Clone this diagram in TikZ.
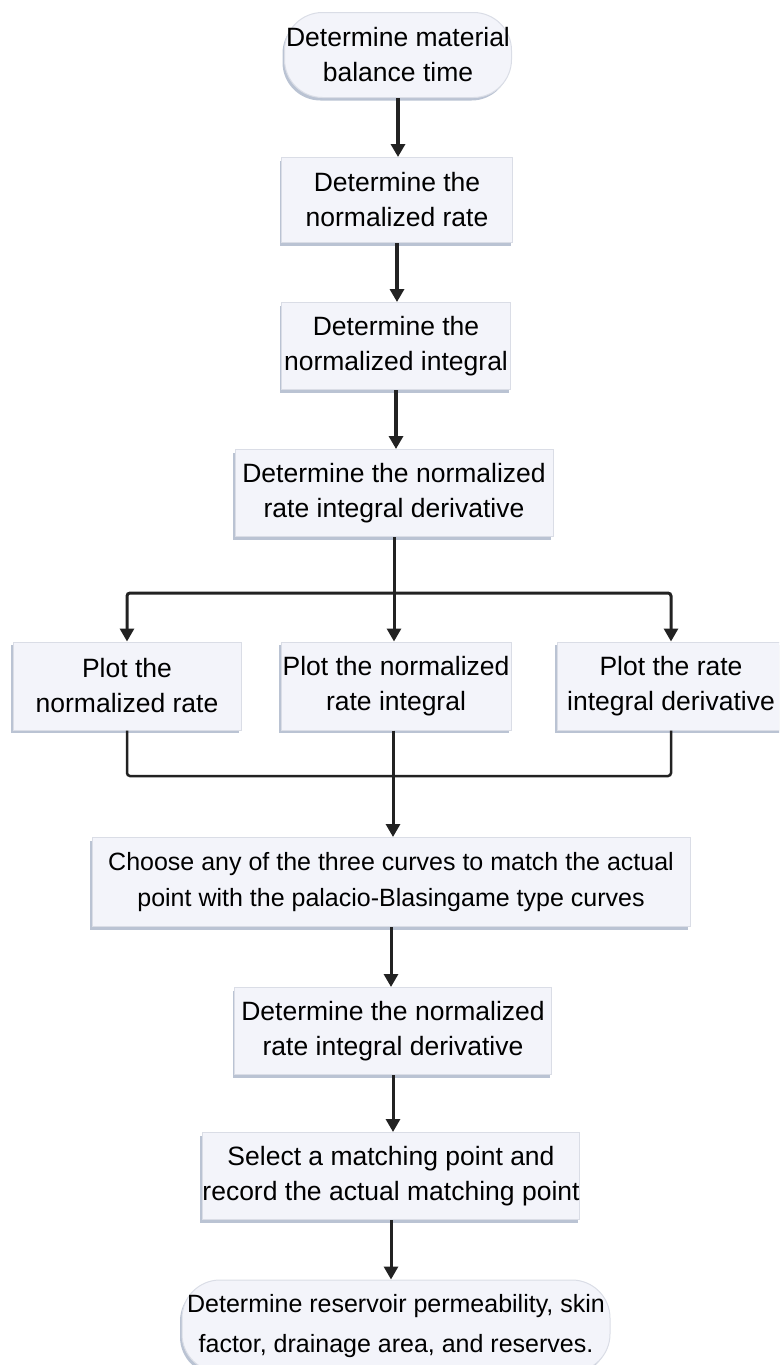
\documentclass[tikz,border=0pt]{standalone}
\usepackage{fontspec}
\setmainfont{Liberation Sans}
\usetikzlibrary{arrows.meta,shadows}

\definecolor{boxfill}{HTML}{F3F4FA}
\definecolor{boxline}{HTML}{DADDE6}
\definecolor{boxshade}{HTML}{A9B4C8}
\definecolor{flowline}{HTML}{222222}

\tikzset{
  procbox/.style={draw=boxline, fill=boxfill, line width=1pt, align=center, inner sep=0pt,
    font=\fontsize{26.5}{35}\selectfont,
    drop shadow={shadow xshift=-2pt, shadow yshift=-3pt, fill=boxshade, opacity=.8}},
  termbox/.style={procbox, rounded corners=38pt},
  flow/.style={draw=flowline, line width=3pt, -{Triangle[width=14pt,length=13pt]}},
  boldflow/.style={flow, line width=4pt},
  joint/.style={draw=flowline, line width=2.5pt, rounded corners=3pt},
}

\begin{document}
\begin{tikzpicture}[x=1pt, y=-1pt]
\useasboundingbox (0,0) rectangle (779,1365);
\clip (0,0) rectangle (779,1365);

\node[termbox, minimum width=227pt, minimum height=85pt] (balance) at (398,55) {Determine material\\balance time};
\node[procbox, minimum width=231pt, minimum height=85pt] (rate) at (397,200) {Determine the\\normalized rate};
\node[procbox, minimum width=229pt, minimum height=87pt] (integral) at (396,346) {Determine the\\normalized integral};
\node[procbox, minimum width=318pt, minimum height=87pt] (deriv) at (394,493) {Determine the normalized\\rate integral derivative};

\node[procbox, minimum width=228pt, minimum height=88pt] (plotrate) at (127,686) {Plot the\\normalized rate};
\node[procbox, minimum width=230pt, minimum height=88pt] (plotint) at (396,686) {Plot the normalized\\rate integral};
\node[procbox, minimum width=228pt, minimum height=88pt] (plotderiv) at (671,686) {Plot the rate\\integral derivative};

\node[procbox, minimum width=598pt, minimum height=89pt, font=\fontsize{25}{36}\selectfont] (choose) at (391,882) {Choose any of the three curves to match the actual\\point with the palacio-Blasingame type curves};
\node[procbox, minimum width=317pt, minimum height=87pt] (deriv2) at (393,1031) {Determine the normalized\\rate integral derivative};
\node[procbox, minimum width=377pt, minimum height=87pt] (select) at (391,1176) {Select a matching point and\\record the actual matching point};
\node[termbox, minimum width=428pt, minimum height=92pt, font=\fontsize{25}{40}\selectfont] (result) at (396,1326) {Determine reservoir permeability, skin\\factor, drainage area, and reserves.};

\coordinate (split) at (393,593);
\coordinate (merge) at (393,776);

% main chain
\draw[boldflow] (balance.south) -- (balance.south |- rate.north);
\draw[boldflow] (rate.south) -- (rate.south |- integral.north);
\draw[boldflow] (integral.south) -- (integral.south |- deriv.north);

% split into the three plots
\draw[flow] (deriv.south) -- (deriv.south |- plotint.north);
\draw[flow, rounded corners=3pt] (split) -| (plotrate.north);
\draw[flow, rounded corners=3pt] (split) -| (plotderiv.north);

% join again
\draw[joint] (plotrate.south) |- (merge) -| (plotderiv.south);
\draw[flow] (merge |- plotint.south) -- (merge |- choose.north);

\draw[flow] (choose.south) -- (choose.south |- deriv2.north);
\draw[flow] (deriv2.south) -- (deriv2.south |- select.north);
\draw[flow] (select.south) -- (select.south |- result.north);

\end{tikzpicture}
\end{document}
